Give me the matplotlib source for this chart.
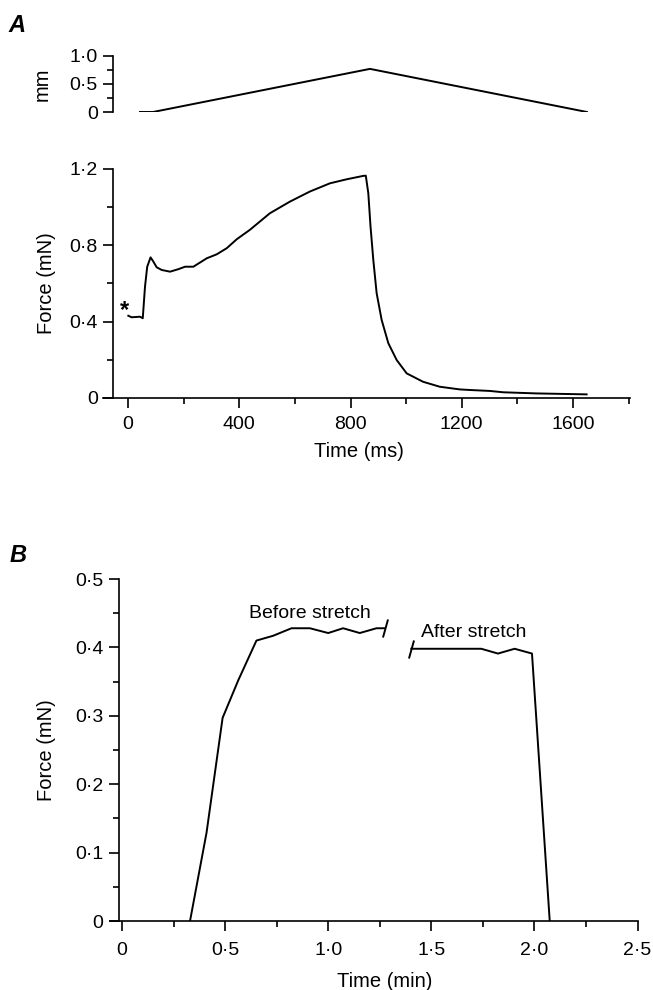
import matplotlib
matplotlib.use("Agg")
import matplotlib.pyplot as plt
from matplotlib.path import Path
from matplotlib.ticker import FixedLocator

plt.rcParams["font.family"] = ["Liberation Sans", "DejaVu Sans"]
plt.rcParams["font.size"] = 14

# --- Panel A: length step (mm) ---
mm_time = [43, 90, 870, 1650]
mm_len = [0.0, 0.0, 0.77, 0.0]

# --- Panel A: force trace (mN) vs time (ms) ---
force_time = [1, 13, 43, 53, 61, 69, 81, 91, 103, 121, 151, 181, 205, 235,
              283, 319, 355, 391, 438, 510, 582, 654, 726, 786, 846, 855,
              864, 872, 882, 894, 912, 936, 966, 1002, 1061, 1121, 1193,
              1229, 1301, 1349, 1469, 1649]
force_val = [0.431, 0.423, 0.426, 0.418, 0.583, 0.688, 0.737, 0.715, 0.685,
             0.671, 0.662, 0.675, 0.688, 0.688, 0.732, 0.753, 0.785, 0.832,
             0.881, 0.968, 1.029, 1.082, 1.125, 1.146, 1.164, 1.165, 1.073,
             0.898, 0.723, 0.549, 0.409, 0.287, 0.199, 0.129, 0.085, 0.059,
             0.045, 0.042, 0.037, 0.030, 0.024, 0.019]

# --- Panel B: force (mN) vs time (min) ---
before_time = [0.33, 0.41, 0.488, 0.564, 0.652, 0.733, 0.822, 0.911, 1.0,
               1.072, 1.153, 1.234, 1.274]
before_val = [0.0, 0.129, 0.297, 0.352, 0.41, 0.417, 0.428, 0.428, 0.421,
              0.428, 0.421, 0.428, 0.428]
after_time = [1.403, 1.742, 1.823, 1.904, 1.988, 2.074]
after_val = [0.398, 0.398, 0.391, 0.398, 0.391, 0.0]

mm_ticks = [0, 0.5, 1.0]
mm_ticklabels = ["0", "0\u00b75", "1\u00b70"]
fA_yticks = [0, 0.4, 0.8, 1.2]
fA_yticklabels = ["0", "0\u00b74", "0\u00b78", "1\u00b72"]
fA_xticks = [0, 400, 800, 1200, 1600]
fA_xticklabels = ["0", "400", "800", "1200", "1600"]
fB_yticks = [0, 0.1, 0.2, 0.3, 0.4, 0.5]
fB_yticklabels = ["0", "0\u00b71", "0\u00b72", "0\u00b73", "0\u00b74", "0\u00b75"]
fB_xticks = [0, 0.5, 1.0, 1.5, 2.0, 2.5]
fB_xticklabels = ["0", "0\u00b75", "1\u00b70", "1\u00b75", "2\u00b70", "2\u00b75"]

W, H = 653, 990
fig = plt.figure(figsize=(W / 100, H / 100), dpi=100)


def px_axes(left, top, right, bottom):
    # axes rectangle given in pixel coords (origin top-left)
    return fig.add_axes([left / W, 1 - bottom / H, (right - left) / W, (bottom - top) / H])


def style(ax, ylab):
    for s in ("top", "right"):
        ax.spines[s].set_visible(False)
    for s in ("left", "bottom"):
        ax.spines[s].set_linewidth(1.2)
    ax.tick_params(which="major", direction="out", length=7, width=1.2, pad=4)
    ax.tick_params(which="minor", direction="out", length=4, width=1.2)
    ax.set_ylabel(ylab, fontsize=14.5)
    ax.patch.set_visible(False)


lw = 1.4
slash = Path([(-0.28, -1.0), (0.28, 1.0)])

# mm panel
ax0 = px_axes(103, 56, 630, 112)
ax0.plot(mm_time, mm_len, color="black", lw=lw)
ax0.set_xlim(-90, 1805)
ax0.set_ylim(0, 1.0)
style(ax0, "mm")
ax0.spines["bottom"].set_visible(False)
ax0.spines["left"].set_position(("data", -54))
ax0.set_xticks([])
ax0.set_yticks(mm_ticks)
ax0.set_yticklabels(mm_ticklabels)
ax0.yaxis.set_minor_locator(FixedLocator([0.25, 0.75]))
ax0.yaxis.set_label_coords(-0.097, 0.5)

# force panel A
ax1 = px_axes(103, 169, 630, 398)
ax1.plot(force_time, force_val, color="black", lw=lw)
ax1.set_xlim(-90, 1805)
ax1.set_ylim(0, 1.2)
style(ax1, "Force (mN)")
ax1.spines["left"].set_position(("data", -54))
ax1.set_yticks(fA_yticks)
ax1.set_yticklabels(fA_yticklabels)
ax1.yaxis.set_minor_locator(FixedLocator([0.2, 0.6, 1.0]))
ax1.set_xticks(fA_xticks)
ax1.set_xticklabels(fA_xticklabels)
ax1.xaxis.set_minor_locator(FixedLocator([200, 600, 1000, 1400, 1800]))
ax1.tick_params(axis="x", which="major", pad=6)
ax1.set_xlabel("Time (ms)", fontsize=14.5)
ax1.xaxis.set_label_coords(0.485, -0.19)
ax1.yaxis.set_label_coords(-0.089, 0.5)
ax1.annotate("*", xy=(force_time[0], force_val[0]), xytext=(-3, -1),
             textcoords="offset points", ha="center", va="baseline",
             fontsize=17, fontweight="bold")

# force panel B
ax2 = px_axes(110, 579, 638, 921)
ax2.plot(before_time, before_val, color="black", lw=lw)
ax2.plot(after_time, after_val, color="black", lw=lw)
ax2.plot(before_time[-1], before_val[-1], marker=slash, ms=13, color="black",
         mew=lw, ls="none")
ax2.plot(after_time[0], after_val[0], marker=slash, ms=13, color="black",
         mew=lw, ls="none")
ax2.set_xlim(-0.058, 2.502)
ax2.set_ylim(0, 0.5)
style(ax2, "Force (mN)")
ax2.spines["left"].set_position(("data", -0.015))
ax2.set_yticks(fB_yticks)
ax2.set_yticklabels(fB_yticklabels)
ax2.yaxis.set_minor_locator(FixedLocator([0.05, 0.15, 0.25, 0.35, 0.45]))
ax2.set_xticks(fB_xticks)
ax2.set_xticklabels(fB_xticklabels)
ax2.xaxis.set_minor_locator(FixedLocator([0.25, 0.75, 1.25, 1.75, 2.25]))
ax2.tick_params(axis="x", which="major", pad=8)
ax2.set_xlabel("Time (min)", fontsize=14.5)
ax2.xaxis.set_label_coords(0.52, -0.148)
ax2.yaxis.set_label_coords(-0.102, 0.5)
ax2.text(0.911, 0.450, "Before stretch", ha="center", va="center", fontsize=14)
ax2.text(1.705, 0.4225, "After stretch", ha="center", va="center", fontsize=14)

fig.text(8 / W, 1 - 25 / H, "A", fontsize=17, fontweight="bold", style="italic",
         va="center", ha="left")
fig.text(10 / W, 1 - 556 / H, "B", fontsize=17, fontweight="bold", style="italic",
         va="center", ha="left")

fig.savefig("out.png", dpi=100)
